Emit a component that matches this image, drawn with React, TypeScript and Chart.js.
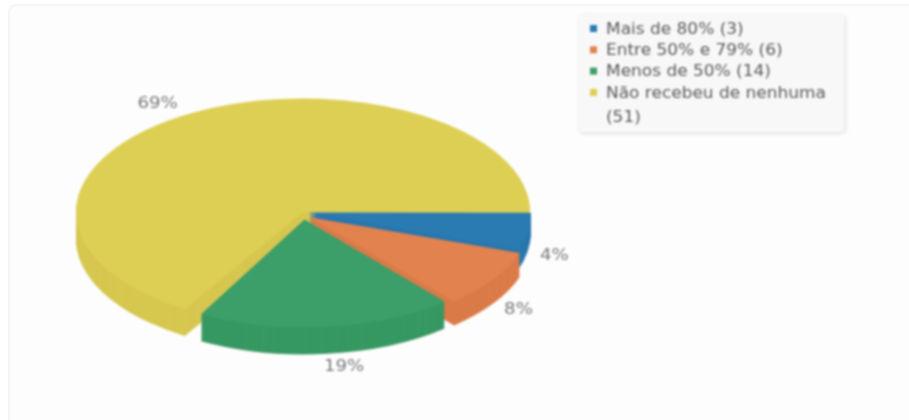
import React, { useEffect, useRef } from "react";
import { Chart, registerables } from "chart.js";

Chart.register(...registerables);

const categories = ["Mais de 80%", "Entre 50% e 79%", "Menos de 50%", "Não recebeu de nenhuma"];
const counts = [3, 6, 14, 51];
const percentLabels = ["4%", "8%", "19%", "69%"];
const topColors = ["#2b7bb3", "#e2824e", "#3c9e68", "#ddcf54"];
const sideColors = ["#2877ae", "#da7b48", "#379862", "#d6c750"];

const CX = 303;
const CY = 212;
const TILT = 0.5;
const sliceDepth = [20, 24, 27, 27];
const sliceDrop = [0, 3, 0, 0];
const BASE_RADIUS = 215;
const sliceShift = [6, 8, 15, 0];
const sliceGrow = [3, 3, 0, 12];
const angleNudge = [[0, 5], [4, 5.7], [5.7, 6.8], [9.5, 0]];
const drawOrder = [3, 0, 1, 2];
const labelRadius = 254;
const labelNudge = [[1, 22.5], [5, 26.5], [15, 28], [-21, 2.5]];
const legendLines = [["Mais de 80% (3)"], ["Entre 50% e 79% (6)"], ["Menos de 50% (14)"], ["Não recebeu de nenhuma", "(51)"]];

const rad = (d: number) => (d * Math.PI) / 180;

const wideText = (ctx: any, text: string, x: number, y: number, stretch: number) => {
  ctx.save();
  ctx.translate(x, y);
  ctx.scale(stretch, 1);
  ctx.fillText(text, 0, 0);
  ctx.restore();
};

const pie3d = {
  id: "pie3d",
  beforeDatasetsDraw(chart: any) {
    const ctx = chart.ctx;
    const arcs = chart.getDatasetMeta(0).data;
    for (const i of drawOrder) {
      const arc = arcs[i];
      const saved = { s: arc.startAngle, e: arc.endAngle, c: arc.circumference, r: arc.outerRadius, o: arc.options };
      arc.startAngle = saved.s + rad(angleNudge[i][0]);
      arc.endAngle = saved.e + rad(angleNudge[i][1]);
      arc.circumference = arc.endAngle - arc.startAngle;
      arc.outerRadius = saved.r + sliceGrow[i];
      const paint = (dy: number, color: string) => {
        ctx.save();
        ctx.translate(0, CY + dy + sliceDrop[i]);
        ctx.scale(1, TILT);
        ctx.translate(0, -CY);
        arc.options = { ...saved.o, backgroundColor: color, borderWidth: 0 };
        arc.draw(ctx);
        ctx.restore();
      };
      for (let d = sliceDepth[i]; d >= 1; d--) paint(d, sideColors[i]);
      paint(0, topColors[i]);
      arc.startAngle = saved.s;
      arc.endAngle = saved.e;
      arc.circumference = saved.c;
      arc.outerRadius = saved.r;
      arc.options = saved.o;
    }
    return false;
  },
  afterDraw(chart: any) {
    const ctx = chart.ctx;
    const arcs = chart.getDatasetMeta(0).data;
    ctx.save();
    ctx.font = "16.5px 'DejaVu Sans'";
    ctx.textAlign = "center";
    ctx.textBaseline = "middle";
    ctx.fillStyle = "#7a7a7a";
    arcs.forEach((arc: any, i: number) => {
      const mid = (arc.startAngle + rad(angleNudge[i][0]) + arc.endAngle + rad(angleNudge[i][1])) / 2;
      const x = CX + Math.cos(mid) * labelRadius + labelNudge[i][0];
      const y = CY + Math.sin(mid) * labelRadius * TILT + labelNudge[i][1];
      wideText(ctx, percentLabels[i], x, y, 1.1);
    });
    // legend
    const bx = 579, by = 15, bw = 265, bh = 117;
    ctx.save();
    ctx.shadowColor = "rgba(0,0,0,0.14)";
    ctx.shadowBlur = 5;
    ctx.shadowOffsetX = 1;
    ctx.shadowOffsetY = 1;
    ctx.fillStyle = "#f8f8f8";
    ctx.beginPath();
    ctx.roundRect(bx, by, bw, bh, 4);
    ctx.fill();
    ctx.restore();
    ctx.textAlign = "left";
    ctx.font = "16px 'DejaVu Sans'";
    let y = 28;
    legendLines.forEach((lines, i) => {
      ctx.fillStyle = topColors[i];
      ctx.fillRect(590, y - 3, 7, 7);
      ctx.fillStyle = "#5a5a5a";
      lines.forEach((t, j) => {
        wideText(ctx, t, 606, y + 1.5, 1.06);
        y += j < lines.length - 1 ? 24 : 21.3;
      });
    });
    ctx.restore();
  },
};

export default function App() {
  const ref = useRef<HTMLCanvasElement>(null);
  useEffect(() => {
    const chart = new Chart(ref.current!, {
      type: "pie",
      data: {
        labels: categories,
        datasets: [{
          data: counts,
          backgroundColor: topColors,
          borderWidth: 0,
          offset: sliceShift.map((k) => k * 4),
        }],
      },
      options: {
        animation: false,
        responsive: false,
        rotation: 90,
        radius: BASE_RADIUS,
        layout: { padding: { left: 0, top: 4, right: 909 - 2 * CX, bottom: 420 - 2 * CY + 4 } },
        plugins: { legend: { display: false }, tooltip: { enabled: false } },
      } as any,
      plugins: [pie3d],
    });
    return () => chart.destroy();
  }, []);
  return (
    <div style={{ position: "absolute", left: 0, top: 0, width: 909, height: 420, background: "#fff", overflow: "hidden" }}>
      <div style={{ position: "absolute", left: 8, top: 4, width: 920, height: 430, boxSizing: "border-box", background: "#fdfdfd", border: "2px solid #f5f5f5", borderRadius: 8 }} />
      <canvas ref={ref} width={909} height={420} style={{ position: "absolute", left: 0, top: 0, width: 909, height: 420, filter: "blur(0.8px)" }} />
    </div>
  );
}
